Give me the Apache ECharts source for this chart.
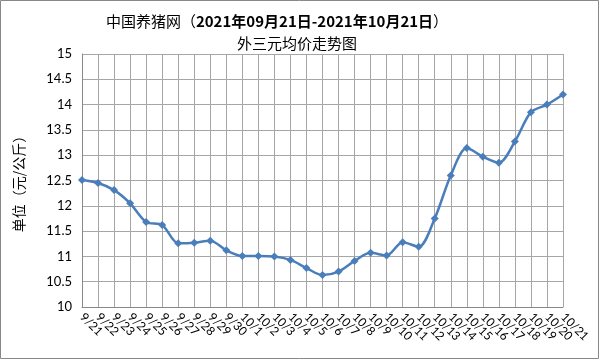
<!DOCTYPE html>
<html>
<head>
<meta charset="utf-8">
<script src="https://cdn.jsdelivr.net/npm/echarts@6/dist/echarts.min.js"></script>
<style>
    html, body { margin: 0; padding: 0; background: #fff; }
    #chart { width: 600px; height: 360px; }
</style>
</head>
<body>
<div id="chart"></div>
<script>
// 日期
var days = ['9/21', '9/22', '9/23', '9/24', '9/25', '9/26', '9/27', '9/28', '9/29', '9/30',
    '10/1', '10/2', '10/3', '10/4', '10/5', '10/6', '10/7', '10/8', '10/9', '10/10',
    '10/11', '10/12', '10/13', '10/14', '10/15', '10/16', '10/17', '10/18', '10/19', '10/20', '10/21'];
// 外三元均价 元/公斤
var prices = [12.51, 12.45, 12.31, 12.05, 11.68, 11.62, 11.26, 11.27, 11.31, 11.12,
    11.01, 11.01, 11.00, 10.93, 10.77, 10.63, 10.70, 10.91, 11.07, 11.02,
    11.28, 11.19, 11.75, 12.60, 13.14, 12.97, 12.85, 13.27, 13.85, 14.00, 14.20];
var yMin = 10, yMax = 15, yStep = 0.5;

var chart = echarts.init(document.getElementById('chart'));
var font = 'Lato, "Noto Sans CJK SC", sans-serif';
var cjk = '"Noto Sans CJK SC", sans-serif';
var option = {
    animation: false,
    title: [{
        // 标题第一行，日期部分加粗
        text: '{n|中国养猪网（}{b|2021年09月21日-2021年10月21日}{n|）}',
        left: 272,
        top: 9,
        textAlign: 'center',
        textStyle: {
            fontWeight: 'normal',
            rich: {
                n: { fontFamily: cjk, fontSize: 15, fontWeight: 'normal', color: '#000' },
                b: { fontFamily: cjk, fontSize: 15, fontWeight: 'bold', color: '#000' }
            }
        }
    }, {
        text: '外三元均价走势图',
        left: 292,
        top: 31,
        textAlign: 'center',
        textStyle: { fontFamily: cjk, fontSize: 15, fontWeight: 'normal', color: '#000' }
    }],
    graphic: [{
        type: 'rect',
        shape: { x: 0.5, y: 0.5, width: 598, height: 358 },
        style: { fill: 'none', stroke: '#888', lineWidth: 1 },
        silent: true
    }],
    grid: { left: 82, right: 37, top: 54, bottom: 53 },
    xAxis: {
        type: 'category',
        data: days,
        boundaryGap: false,
        axisLine: { lineStyle: { color: '#888' } },
        axisTick: { show: false },
        splitLine: { show: true, lineStyle: { color: '#a6a6a6' } },
        axisLabel: {
            interval: 0,
            rotate: -45,
            margin: 8,
            fontFamily: font,
            fontSize: 12,
            color: '#000'
        }
    },
    yAxis: {
        type: 'value',
        min: yMin,
        max: yMax,
        interval: yStep,
        name: '单位（元/公斤）',
        nameLocation: 'middle',
        nameRotate: 90,
        nameGap: 56,
        nameTextStyle: { fontFamily: cjk, fontSize: 14, color: '#000' },
        axisLine: { show: true, lineStyle: { color: '#888' } },
        axisTick: { show: false },
        splitLine: { lineStyle: { color: '#a6a6a6' } },
        axisLabel: { margin: 10, fontFamily: font, fontSize: 13, color: '#000' }
    },
    series: [{
        name: '外三元',
        type: 'line',
        data: prices,
        smooth: 0.3,
        symbol: 'diamond',
        symbolSize: 8,
        itemStyle: { color: '#4a7ebb' },
        lineStyle: { color: '#4a7ebb', width: 2.5 }
    }]
};
chart.setOption(option, true);
</script>
</body>
</html>
